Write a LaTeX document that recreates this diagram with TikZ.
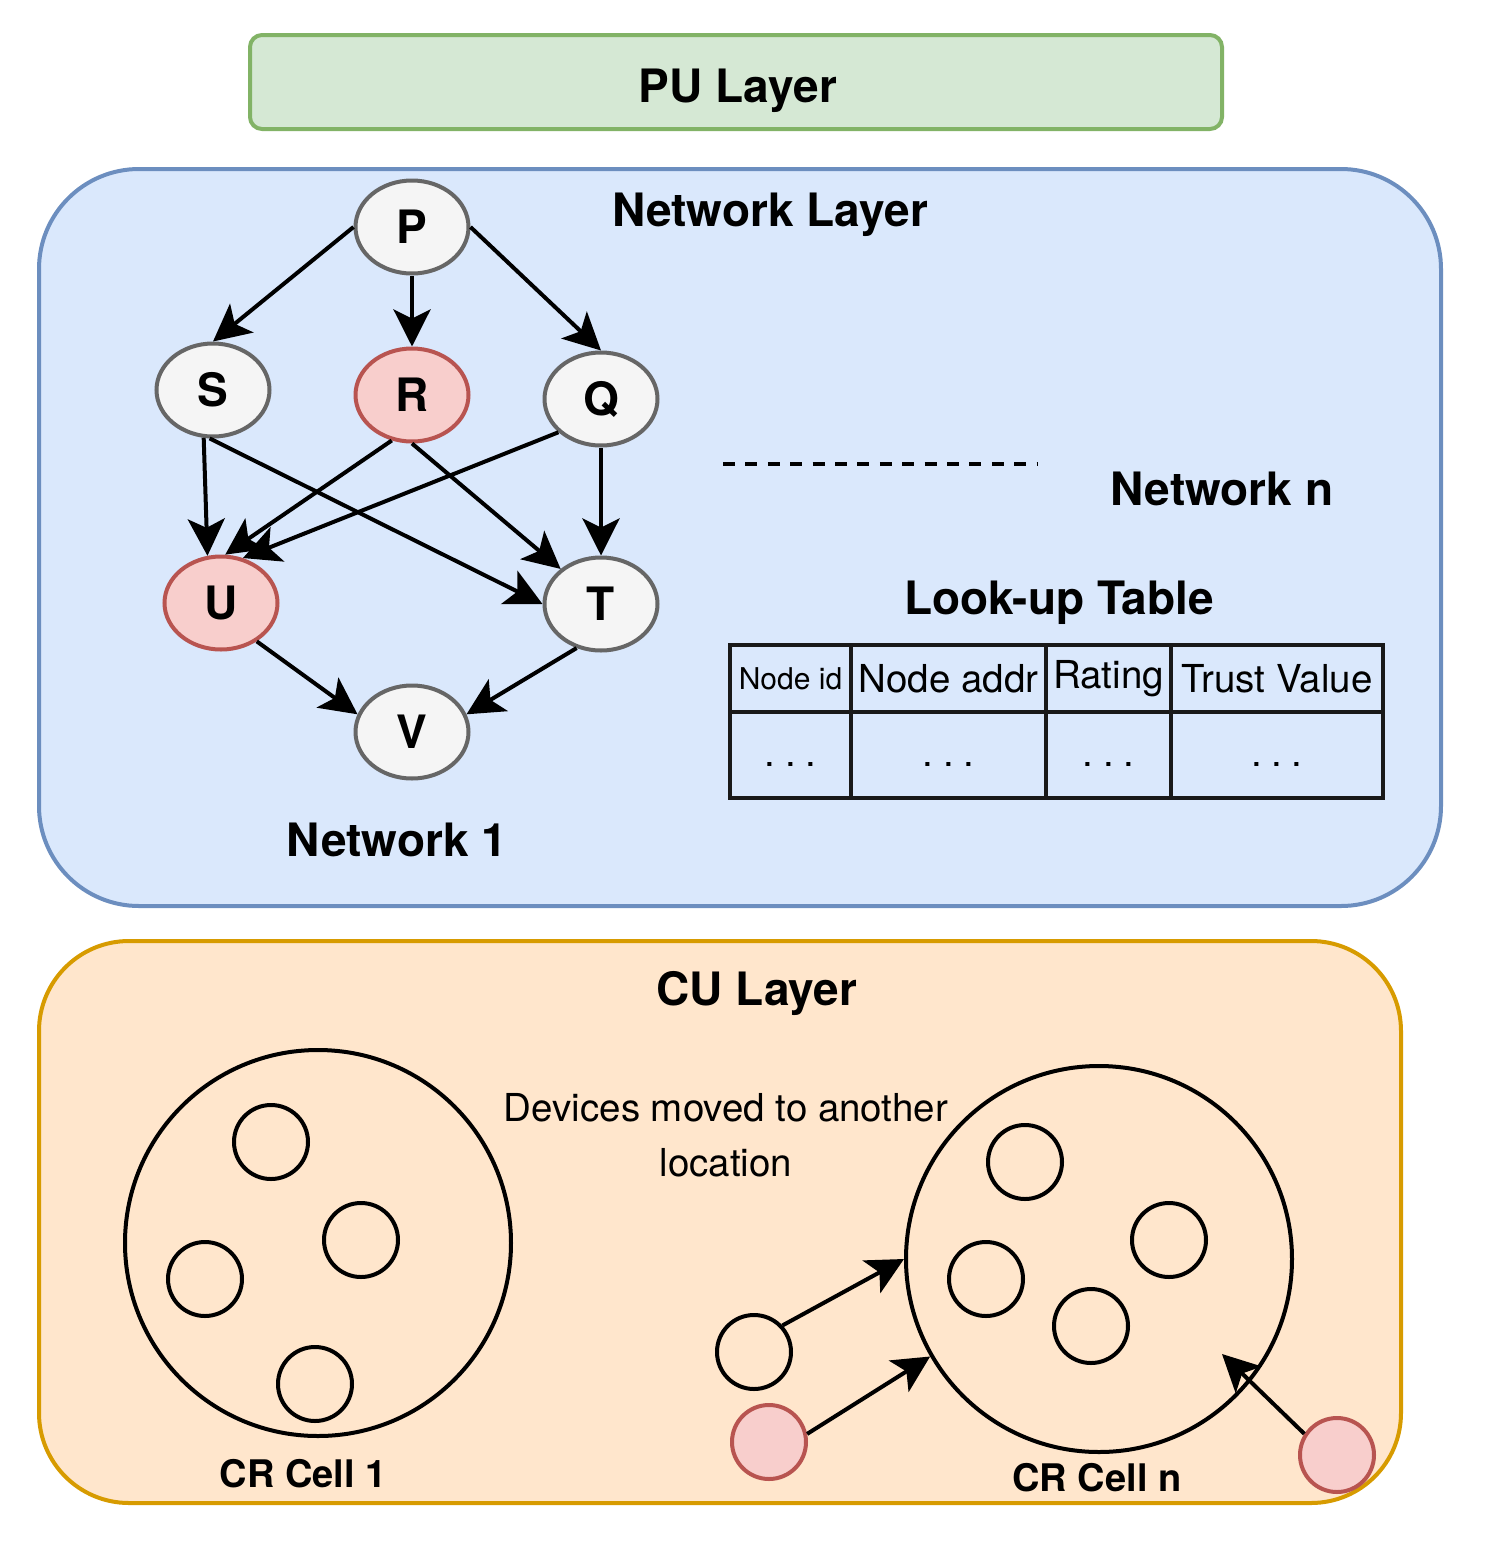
\documentclass[tikz,border=0pt]{standalone}
\usepackage{fontspec}
\setmainfont{TeX Gyre Heros}
\definecolor{pufill}{HTML}{D5E8D4}
\definecolor{pudraw}{HTML}{82B366}
\definecolor{netfill}{HTML}{DAE8FC}
\definecolor{netdraw}{HTML}{6C8EBF}
\definecolor{cufill}{HTML}{FFE6CC}
\definecolor{cudraw}{HTML}{D79B00}
\definecolor{gnfill}{HTML}{F5F5F5}
\definecolor{gndraw}{HTML}{666666}
\definecolor{rnfill}{HTML}{F8CECC}
\definecolor{rndraw}{HTML}{B85450}
\newcommand{\layerfont}{\fontsize{46}{52}\selectfont\bfseries}
\newcommand{\cellfont}{\fontsize{38}{44}\selectfont\bfseries}
\newcommand{\plainfont}{\fontsize{38.5}{55}\selectfont}
\newcommand{\smallplain}{\fontsize{30}{36}\selectfont}
\newcommand{\tdots}{.\hspace{0.25em}.\hspace{0.25em}.}
\usetikzlibrary{arrows.meta, shapes.geometric}

\begin{document}
\begin{tikzpicture}[
  x=1pt, y=-1pt,
  layer/.style={draw, line width=4pt, inner sep=0pt},
  gnode/.style={ellipse, draw=gndraw, fill=gnfill, line width=4pt, minimum width=113pt, minimum height=93pt, inner sep=0pt, font=\layerfont},
  rnode/.style={gnode, draw=rndraw, fill=rnfill},
  cell/.style={circle, draw, line width=4pt, minimum size=386pt, inner sep=0pt},
  dev/.style={circle, draw, line width=4pt, minimum size=74pt, inner sep=0pt},
  rdev/.style={dev, draw=rndraw, fill=rnfill},
  tcell/.style={draw=black!90, line width=4pt, anchor=north west, inner sep=0pt, font=\plainfont},
  arr/.style={-{Stealth[length=37pt, width=37pt, inset=9pt]}, line width=4pt},
]
\useasboundingbox (0,0) rectangle (1486,1548);

% Layers
\node[layer, draw=pudraw, fill=pufill, rounded corners=12pt, minimum width=972pt, minimum height=94pt] (pu) at (736,82) {};
\node[layer, draw=netdraw, fill=netfill, rounded corners=100pt, minimum width=1402pt, minimum height=737pt] (net) at (740,537.5) {};
\node[layer, draw=cudraw, fill=cufill, rounded corners=90pt, minimum width=1362pt, minimum height=562pt] (cu) at (720,1222) {};
\node[font=\layerfont] (pu_title) at (738,91) {PU Layer};

% Network layer: graph of network 1
\node[font=\layerfont] (net_title) at (770,215) {Network Layer};
\node[gnode] (P) at (412,227) {P};
\node[gnode] (S) at (213,390) {S};
\node[rnode] (R) at (412,395) {R};
\node[gnode] (Q) at (601,399) {Q};
\node[rnode] (U) at (221,603) {U};
\node[gnode] (T) at (601,604) {T};
\node[gnode] (V) at (412,732) {V};
\node[font=\layerfont] (net_one) at (397,840) {Network 1};

\draw[arr] (P.west) -- (S.north);
\draw[arr] (P.south) -- (R.north);
\draw[arr] (P.east) -- (Q.north);
\draw[arr] (S.259) -- (U.106);
\draw[arr] (S.266) -- (T.west);
\draw[arr] (R.246) -- (U.85);
\draw[arr] (R.south) -- (T.139);
\draw[arr] (Q.218) -- (U.64);
\draw[arr] (Q.south) -- (T.north);
\draw[arr] (U.313) -- (V.162);
\draw[arr] (T.241) -- (V.18);

% Other networks and look-up table
\coordinate (dash_a) at (723,464);
\coordinate (dash_b) at (1037,464);
\draw[line width=4pt, dash pattern=on 12pt off 10.4pt] (dash_a) -- (dash_b);
\node[font=\layerfont] (net_n) at (1222,489) {Network n};
\node[font=\layerfont] (lut_title) at (1059,603) {Look-up Table};
\foreach \c/\xa/\colw/\head in {a/728/121/{\smallplain Node id}, b/849/195/Node addr, c/1044/125/Rating, d/1169/212/Trust Value} {
  \node[tcell, minimum width=\colw, minimum height=67] (head_\c) at (\xa,643) {\head};
  \node[tcell, minimum width=\colw, minimum height=86] (row_\c) at (\xa,710) {\strut\tdots};
}

% CU layer
\node[font=\layerfont] (cu_title) at (757,993) {CU Layer};
\node[cell] (cell_one) at (318,1243) {};
\node[cell] (cell_n) at (1099,1259) {};
\foreach \i/\x/\y in {1/271/1142, 2/361/1240, 3/205/1279, 4/315/1384}
  \node[dev] (one_\i) at (\x,\y) {};
\foreach \i/\x/\y in {1/1025/1162, 2/1169/1240, 3/986/1279, 4/1091/1326}
  \node[dev] (n_\i) at (\x,\y) {};
\node[dev] (mv_a) at (754,1352) {};
\node[rdev] (mv_b) at (769,1442) {};
\node[rdev] (mv_c) at (1337,1455) {};
\coordinate (mv_c_end) at (1222,1354);
\node[font=\plainfont, align=center] (mv_text) at (726,1135) {Devices moved to another\\location};
\node[font=\cellfont] (cell_one_lbl) at (303,1474) {CR Cell 1};
\node[font=\cellfont] (cell_n_lbl) at (1097,1478) {CR Cell n};

\draw[arr] (mv_a.43) -- (cell_n.west);
\draw[arr] (mv_b.12) -- (cell_n.210);
\draw[arr] (mv_c.147) -- (mv_c_end);

\end{tikzpicture}
\end{document}
